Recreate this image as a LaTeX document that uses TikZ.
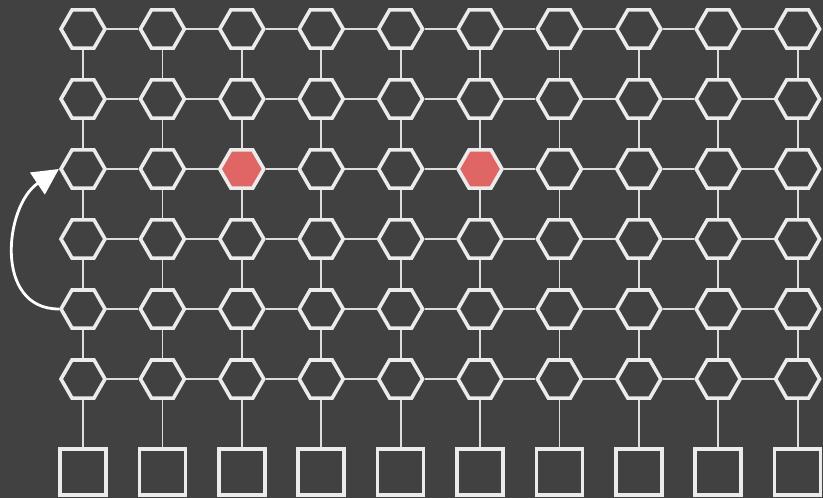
\documentclass[tikz,border=0pt]{standalone}
\usetikzlibrary{arrows.meta,shapes.geometric}
\definecolor{bgc}{HTML}{414141}
\definecolor{edgec}{HTML}{EBEBEB}
\definecolor{wirec}{HTML}{DDDDDD}
\definecolor{hotc}{HTML}{E06666}

\begin{document}
\begin{tikzpicture}[
  x=1pt, y=-1pt,
  hx/.style={regular polygon, regular polygon sides=6, minimum size=44pt,
             inner sep=0pt, draw=edgec, line width=3.6pt},
  rd/.style={draw=edgec, line width=3.6pt, minimum size=46pt, inner sep=0pt},
  wire/.style={draw=wirec, line width=1.8pt},
  jump/.style={draw=white, line width=2.8pt, -{Triangle[length=26pt,width=26pt]}}]

\fill[bgc] (0,0) rectangle (823,498);
\useasboundingbox (0,0) rectangle (823,498);

% ===== hexagon grid (6 rows, 10 columns) =====
\foreach \r in {1,...,6}
  \foreach \c in {1,...,10}{
    \def\hcol{bgc}
    \ifnum\r=3 \ifnum\c=3 \def\hcol{hotc}\fi \ifnum\c=6 \def\hcol{hotc}\fi \fi
    \node[hx, fill=\hcol] (h\r-\c) at ({83+79.4*(\c-1)}, {29+70*(\r-1)}) {};
  }

% ===== readout squares =====
\foreach \c in {1,...,10}
  \node[rd] (q\c) at ({83+79.4*(\c-1)}, 472) {};

% ===== edges =====
\foreach \r in {1,...,6}
  \foreach \c [count=\p] in {2,...,10}
    \draw[wire] (h\r-\p) -- (h\r-\c);
\foreach \r [count=\p] in {2,...,6}
  \foreach \c in {1,...,10}
    \draw[wire] (h\p-\c) -- (h\r-\c);
\foreach \c in {1,...,10}
  \draw[wire] (h6-\c) -- (q\c);

% ===== arrow =====
\draw[jump] (h5-1.west) to[out=180, in=214, looseness=1.2] (h3-1.west);

\end{tikzpicture}
\end{document}
